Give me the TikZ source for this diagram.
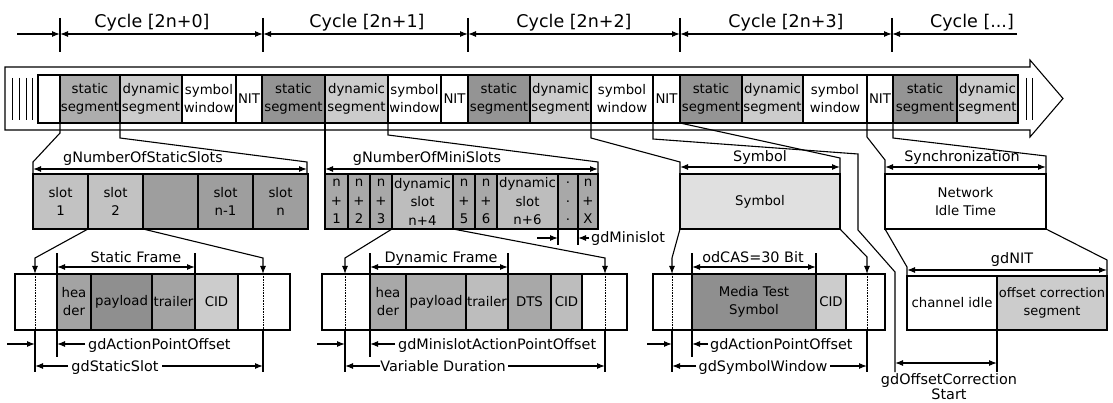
\documentclass[tikz,border=0pt]{standalone}
\usepackage{fontspec}
\setmainfont{DejaVu Sans}
\usetikzlibrary{arrows.meta}

\definecolor{stA}{gray}{0.68}
\definecolor{stB}{gray}{0.58}
\definecolor{dyn}{gray}{0.80}
\definecolor{slA}{gray}{0.76}
\definecolor{slB}{gray}{0.62}
\definecolor{msl}{gray}{0.66}
\definecolor{msd}{gray}{0.74}
\definecolor{syl}{gray}{0.88}
\definecolor{hdr}{gray}{0.64}
\definecolor{pld}{gray}{0.56}
\definecolor{cid}{gray}{0.80}

\newcommand\cellfont{\fontsize{13.3}{18}\selectfont}
\newcommand\labfont{\fontsize{14.4}{17}\selectfont}
\newcommand\cycfont{\fontsize{17.5}{20}\selectfont}

\begin{document}
\begin{tikzpicture}[x=1pt,y=-1pt,
	cell/.style={draw, line width=1.1pt, inner sep=0pt, outer sep=0pt, align=center, font=\cellfont},
	lab/.style={inner sep=0pt, anchor=base, font=\labfont},
	conn/.style={line width=1.1pt},
	dim/.style={line width=1.1pt, {Latex[length=8pt,width=6pt]}-{Latex[length=8pt,width=6pt]}},
	arr/.style={line width=1.1pt, -{Latex[length=8pt,width=6pt]}},
	dotl/.style={line width=0.6pt, densely dotted}]
	\useasboundingbox (0,0) rectangle (1113,403);
	
	%cycles
	\foreach \x in {60,263,468,680,892}{
		\draw[conn] (\x,18) -- (\x,52);
	}
	\draw[arr] (17,34) -- (60,34);
	\foreach \a/\b in {60/263,263/468,468/680,680/892}{
		\draw[dim] (\a,34) -- (\b,34);
	}
	\draw[arr] (1017,34) -- (892,34);
	\node[lab, font=\cycfont] (c0) at (152,28) {Cycle [2n+0]};
	\node[lab, font=\cycfont] (c1) at (367,28) {Cycle [2n+1]};
	\node[lab, font=\cycfont] (c2) at (574,28) {Cycle [2n+2]};
	\node[lab, font=\cycfont] (c3) at (786,28) {Cycle [2n+3]};
	\node[lab, font=\cycfont] (c4) at (972,28) {Cycle [...]};
	
	%band
	\draw[line width=1.1pt, fill=white] (5,67) -- (1030,67) -- (1030,60) -- (1063,98.5) -- (1030,137) -- (1030,130) -- (5,130) -- cycle;
	\foreach \x in {12,19,26,32,1026,1032}{
		\draw[line width=0.9pt] (\x,78) -- (\x,120);
	}
	\foreach \a/\b/\col/\txt [count=\k] in {38/60/white/{}, 60/120/stA/{static\\segment}, 120/182/dyn/{dynamic\\segment},
		182/236/white/{symbol\\window}, 236/262/white/NIT, 262/325/stB/{static\\segment}, 325/388/dyn/{dynamic\\segment},
		388/441/white/{symbol\\window}, 441/468/white/NIT, 468/530/stB/{static\\segment}, 530/591/dyn/{dynamic\\segment},
		591/653/white/{symbol\\window}, 653/680/white/NIT, 680/742/stB/{static\\segment}, 742/803/dyn/{dynamic\\segment},
		803/867/white/{symbol\\window}, 867/893/white/NIT, 893/957/stB/{static\\segment}, 957/1018/dyn/{dynamic\\segment}}{
		\node[cell, fill=\col, minimum width={\b-\a}, minimum height=48] (t\k) at ({(\a+\b)/2},99) {\txt};
	}
	
	%expansion to middle row
	\draw[conn] (t2.south west) -- (60,133) -- (33,162) -- (33,174);
	\draw[conn] (t2.south east) -- (120,138) -- (307,162) -- (307,174);
	\draw[conn] (t7.south west) -- (325,174);
	\draw[conn] (t7.south east) -- (388,135) -- (598,162) -- (598,174);
	\draw[conn] (t12.south west) -- (591,138) -- (680,162) -- (680,174);
	\draw[conn] (t14.south west) -- (840,158) -- (840,174);
	\draw[conn] (t12.south east) -- (653,139) -- (858,154) -- (858,230) -- (895,272) -- (895,372);
	\draw[conn] (t17.south west) -- (867,137) -- (885,160) -- (885,174);
	\draw[conn] (t17.south east) -- (893,138) -- (1046,156) -- (1046,174);
	
	%middle row
	\draw[dim] (33,169) -- (307,169);
	\node[lab] (nss) at (143,163) {gNumberOfStaticSlots};
	\foreach \col/\txt [count=\k] in {slA/{slot\\1}, slA/{slot\\2}, slB/{}, slB/{slot\\n-1}, slB/{slot\\n}}{
		\node[cell, fill=\col, minimum width=55, minimum height=55] (sl\k) at ({5.5+55*\k},201.5) {\txt};
	}
	\draw[dim] (325,169) -- (598,169);
	\node[lab] (nms) at (427,163) {gNumberOfMiniSlots};
	\foreach \a/\b/\col/\txt [count=\k] in {325/348/msl/{n\\+\\1}, 348/370/msl/{n\\+\\2}, 370/392/msl/{n\\+\\3},
		392/453/msd/{dynamic\\slot\\n+4}, 453/475/msl/{n\\+\\5}, 475/497/msl/{n\\+\\6}, 497/558/msd/{dynamic\\slot\\n+6},
		558/578/msl/{.\\.\\.}, 578/598/msl/{n\\+\\X}}{
		\node[cell, fill=\col, minimum width={\b-\a}, minimum height=55, font=\fontsize{13.3}{18.5}\selectfont] (ms\k) at ({(\a+\b)/2},201.5) {\txt};
	}
	\draw[conn] (ms8.south west) -- (558,245);
	\draw[conn] (ms9.south west) -- (578,245);
	\draw[arr] (537,238) -- (558,238);
	\draw[arr] (589,238) -- (578,238);
	\node[lab, anchor=base west] (gms) at (591,243) {gdMinislot};
	
	\draw[dim] (680,167) -- (840,167);
	\node[lab] (syl) at (760,162) {Symbol};
	\node[cell, fill=syl, minimum width=160, minimum height=55] (sym) at (760,201.5) {Symbol};
	\draw[dim] (885,167) -- (1046,167);
	\node[lab] (syn) at (962,162) {Synchronization};
	\node[cell, fill=white, minimum width=161, minimum height=55] (nit) at (965.5,201.5) {Network\\Idle Time};
	
	%expansion to frames
	\draw[arr] (sl2.south west) -- (35,258) -- (35,274);
	\draw[arr] (sl2.south east) -- (263,258) -- (263,274);
	\draw[arr] (ms4.south west) -- (345,258) -- (345,274);
	\draw[arr] (ms4.south east) -- (605,258) -- (605,274);
	\draw[arr] (sym.south west) -- (672,258) -- (672,274);
	\draw[arr] (sym.south east) -- (867,257) -- (867,274);
	\draw[conn] (nit.south west) -- (907,267) -- (907,276);
	\draw[conn] (nit.south east) -- (1107,260) -- (1107,276);
	
	%static frame
	\node[cell, minimum width=275, minimum height=56] (sfr) at (152.5,302) {};
	\foreach \a/\b/\col/\txt [count=\k] in {57/91/hdr/{hea\\der}, 91/152/pld/payload, 152/195/hdr/trailer, 195/238/cid/CID}{
		\node[cell, fill=\col, minimum width={\b-\a}, minimum height=56] (sf\k) at ({(\a+\b)/2},302) {\txt};
	}
	\draw[dotl] (35,274) -- (35,330);
	\draw[dotl] (263,274) -- (263,330);
	\draw[conn] (sf1.north west) -- (57,253);
	\draw[conn] (sf4.north west) -- (195,253);
	\draw[dim] (57,267) -- (195,267);
	\node[lab] (sfl) at (136,262) {Static Frame};
	\draw[conn] (35,330) -- (35,372);
	\draw[conn] (sf1.south west) -- (57,357);
	\draw[conn] (263,330) -- (263,372);
	\draw[arr] (7,344) -- (35,344);
	\draw[arr] (85,344) -- (57,344);
	\node[lab, anchor=base west] (sap) at (88,349) {gdActionPointOffset};
	\draw[arr] (68,366) -- (35,366);
	\draw[arr] (162,366) -- (263,366);
	\node[lab] (sss) at (115,371) {gdStaticSlot};
	
	%dynamic frame
	\node[cell, minimum width=305, minimum height=56] (dfr) at (474.5,302) {};
	\foreach \a/\b/\col/\txt [count=\k] in {370/406/msl/{hea\\der}, 406/466/stA/payload, 466/508/msd/trailer, 508/551/msl/DTS, 551/582/msd/CID}{
		\node[cell, fill=\col, minimum width={\b-\a}, minimum height=56] (df\k) at ({(\a+\b)/2},302) {\txt};
	}
	\draw[dotl] (345,274) -- (345,330);
	\draw[dotl] (605,274) -- (605,330);
	\draw[conn] (df1.north west) -- (370,253);
	\draw[conn] (df4.north west) -- (508,253);
	\draw[dim] (370,267) -- (508,267);
	\node[lab] (dfl) at (441,262) {Dynamic Frame};
	\draw[conn] (345,330) -- (345,372);
	\draw[conn] (df1.south west) -- (370,357);
	\draw[conn] (605,330) -- (605,372);
	\draw[arr] (317,344) -- (345,344);
	\draw[arr] (395,344) -- (370,344);
	\node[lab, anchor=base west] (dap) at (398,349) {gdMinislotActionPointOffset};
	\draw[arr] (380,366) -- (345,366);
	\draw[arr] (508,366) -- (605,366);
	\node[lab] (vdu) at (443,371) {Variable Duration};
	
	%symbol frame
	\node[cell, minimum width=232, minimum height=56] (yfr) at (769,302) {};
	\node[cell, fill=pld, minimum width=124, minimum height=56] (ym) at (754,302) {Media Test\\Symbol};
	\node[cell, fill=cid, minimum width=30, minimum height=56] (yc) at (831,302) {CID};
	\draw[dotl] (672,274) -- (672,330);
	\draw[dotl] (867,274) -- (867,330);
	\draw[conn] (ym.north west) -- (692,253);
	\draw[conn] (ym.north east) -- (816,253);
	\draw[dim] (692,267) -- (816,267);
	\node[lab] (cas) at (753,262) {odCAS=30 Bit};
	\draw[conn] (672,330) -- (672,372);
	\draw[conn] (ym.south west) -- (692,357);
	\draw[conn] (867,330) -- (867,372);
	\draw[arr] (647,344) -- (672,344);
	\draw[arr] (708,344) -- (692,344);
	\node[lab, anchor=base west] (yap) at (710,349) {gdActionPointOffset};
	\draw[arr] (696,366) -- (672,366);
	\draw[arr] (830,366) -- (867,366);
	\node[lab] (ysw) at (763,371) {gdSymbolWindow};
	
	%nit frame
	\draw[dim] (907,270) -- (1107,270);
	\node[lab] (gnit) at (1012,263) {gdNIT};
	\node[cell, fill=white, minimum width=90, minimum height=54] (ni) at (952,303) {channel idle};
	\node[cell, fill=cid, minimum width=110, minimum height=54, font=\fontsize{13}{18}\selectfont] (no) at (1052,303) {offset correction\\segment};
	\draw[conn] (no.south west) -- (997,372);
	\draw[dim] (895,363) -- (997,363);
	\node[lab] (ocs) at (949,384) {gdOffsetCorrection};
	\node[lab] (ocs2) at (949,399) {Start};
\end{tikzpicture}
\end{document}
